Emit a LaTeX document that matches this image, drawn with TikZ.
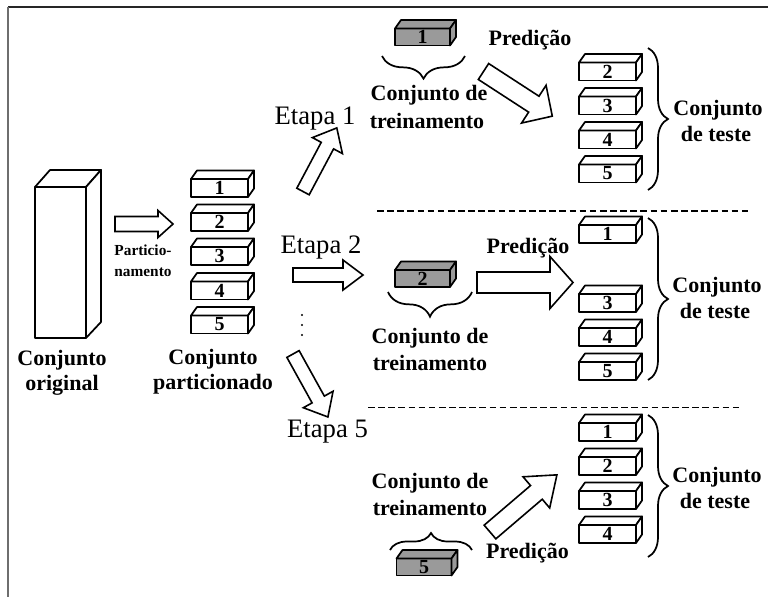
\documentclass[tikz,border=0pt]{standalone}
\usepackage{fontspec}
\setmainfont{Liberation Serif}
\usetikzlibrary{decorations.pathreplacing}
\definecolor{boxgray}{HTML}{9A9A9A}
\definecolor{framegray}{HTML}{6E6E6E}
\tikzset{
  face/.style={draw=black, line width=1.3pt, line join=round},
  boxfront/.style={face, outer sep=0pt, inner sep=0pt, minimum width=42.75pt, minimum height=13.5pt,
     font=\bfseries\fontsize{15}{15}\selectfont},
  trainfront/.style={boxfront, minimum width=41.25pt, minimum height=12.75pt},
  blk/.style={draw=black, line width=1.2pt, fill=white, line join=miter},
  lbl/.style={font=\bfseries\fontsize{16.5}{20}\selectfont, inner sep=0pt, anchor=base},
  smalllbl/.style={font=\bfseries\fontsize{11.5}{14}\selectfont, inner sep=0pt, anchor=base},
  etapa/.style={font=\fontsize{20}{24}\selectfont, inner sep=0pt, anchor=base},
  brc/.style={decorate, decoration={brace, amplitude=#1}, line width=1.3pt},
  sep/.style={line width=0.8pt, dash pattern=on 5pt off 2.6pt},
}
% name, x, y, label, style, fill
\newcommand{\cubebox}[6]{%
  \node[#5, fill=#6] (#1) at (#2,#3) {#4};
  \draw[face, fill=#6] (#1.north west) -- ++(6,-8.5) -- ([shift={(6,-8.5)}]#1.north east) -- (#1.north east) -- cycle;
  \draw[face, fill=#6] (#1.north east) -- ++(6,-8.5) -- ([shift={(6,-8.5)}]#1.south east) -- (#1.south east) -- cycle;
}
% x, y (tail centre), angle, length, shaft width, head width, head length
\newcommand{\blockarrow}[7]{%
  \begin{scope}[shift={(#1,#2)}, rotate=#3]
    \draw[blk] (0,-#5/2) -- (#4-#7,-#5/2) -- (#4-#7,-#6/2) -- (#4,0) -- (#4-#7,#6/2) -- (#4-#7,#5/2) -- (0,#5/2) -- cycle;
  \end{scope}}
\begin{document}
\begin{tikzpicture}[x=0.75pt, y=-0.75pt]
\useasboundingbox (0,0) rectangle (768,597);
% frame
\coordinate (ftl) at (8,7);
\coordinate (ftr) at (768,7);
\coordinate (fbl) at (8,597);
\draw[line width=1.5pt, black!85] (ftl) -- (ftr);
\draw[line width=1.8pt, framegray] (ftl) -- (fbl);

% original set
\node[face, fill=white, outer sep=0pt, minimum width=38.25pt, minimum height=113.25pt] (orig) at (60.5,262.5) {};
\draw[face, fill=white] (orig.north west) -- ++(15,-17) -- ([shift={(15,-17)}]orig.north east) -- (orig.north east) -- cycle;
\draw[face, fill=white] (orig.north east) -- ++(15,-17) -- ([shift={(15,-16)}]orig.south east) -- (orig.south east) -- cycle;
\node[lbl] (origA) at (62,365) {Conjunto};
\node[lbl] (origB) at (62,390) {original};

% partition arrow
\blockarrow{115}{224}{0}{58}{15}{27}{15}
\node[smalllbl] (partA) at (143,255) {Particio-};
\node[smalllbl] (partB) at (143,276) {namento};

% partitioned set
\cubebox{p1}{219.5}{188}{1}{boxfront}{white}
\cubebox{p2}{219.5}{222}{2}{boxfront}{white}
\cubebox{p3}{219.5}{256}{3}{boxfront}{white}
\cubebox{p4}{219.5}{290.5}{4}{boxfront}{white}
\cubebox{p5}{219.5}{324.5}{5}{boxfront}{white}
\node[lbl] (partsetA) at (213,364) {Conjunto};
\node[lbl] (partsetB) at (213,389) {particionado};

% stage arrows
\blockarrow{303}{191.5}{62}{72}{14}{34}{20}
\node[etapa] (et1) at (315,124) {Etapa 1};
\blockarrow{293}{275}{0}{70}{14}{30}{20}
\node[etapa] (et2) at (321,253) {Etapa 2};
\blockarrow{293}{354}{-61}{72}{14}{34}{20}
\node[etapa] (et5) at (327.5,437) {Etapa 5};
\fill (302,315) circle (1.1);
\fill (302,325) circle (1.1);
\fill (302,335) circle (1.1);

% separators
\coordinate (s1a) at (377,211); \coordinate (s1b) at (748,211);
\coordinate (s2a) at (368,407.5); \coordinate (s2b) at (742,407.5);
\draw[sep] (s1a) -- (s1b);
\draw[sep] (s2a) -- (s2b);

% ---- stage 1
\cubebox{t1}{422.5}{37}{1}{trainfront}{boxgray}
\draw[brc=17pt] (465,56) -- (382,56);
\node[lbl] (tr1A) at (429,100) {Conjunto de};
\node[lbl] (tr1B) at (427,128) {treinamento};
\blockarrow{483.5}{71.5}{-33}{82}{19}{45}{22}
\node[lbl] (pr1) at (530,45) {Predição};
\cubebox{a2}{607.5}{71.5}{2}{boxfront}{white}
\cubebox{a3}{607.5}{105.5}{3}{boxfront}{white}
\cubebox{a4}{607.5}{139.5}{4}{boxfront}{white}
\cubebox{a5}{607.5}{173.5}{5}{boxfront}{white}
\draw[brc=15pt] (648,48) -- (648,190);
\node[lbl] (te1A) at (718,115) {Conjunto};
\node[lbl] (te1B) at (716,141.7) {de teste};

% ---- stage 2
\cubebox{t2}{422.5}{278.5}{2}{trainfront}{boxgray}
\draw[brc=18.5pt] (472,292) -- (388,292);
\node[lbl] (tr2A) at (430,343) {Conjunto de};
\node[lbl] (tr2B) at (430,370) {treinamento};
\blockarrow{477}{282.5}{0}{96}{21}{52}{23}
\node[lbl] (pr2) at (528,253) {Predição};
\cubebox{b1}{607.5}{234}{1}{boxfront}{white}
\cubebox{b3}{607.5}{303}{3}{boxfront}{white}
\cubebox{b4}{607.5}{337}{4}{boxfront}{white}
\cubebox{b5}{607.5}{371}{5}{boxfront}{white}
\draw[brc=15pt] (648,218) -- (648,380);
\node[lbl] (te2A) at (717,292) {Conjunto};
\node[lbl] (te2B) at (715,318) {de teste};

% ---- stage 5
\node[lbl] (tr5A) at (430,488) {Conjunto de};
\node[lbl] (tr5B) at (430,515) {treinamento};
\draw[brc=12.75pt] (390,550) -- (472,550);
\cubebox{t5}{424}{567}{5}{trainfront}{boxgray}
\blockarrow{490}{532}{40.5}{88}{18}{41}{27}
\node[lbl] (pr5) at (527.5,558) {Predição};
\cubebox{c1}{607.5}{432}{1}{boxfront}{white}
\cubebox{c2}{607.5}{466}{2}{boxfront}{white}
\cubebox{c3}{607.5}{500}{3}{boxfront}{white}
\cubebox{c4}{607.5}{534}{4}{boxfront}{white}
\draw[brc=15pt] (648,415) -- (648,557);
\node[lbl] (te5A) at (717,482) {Conjunto};
\node[lbl] (te5B) at (715,508) {de teste};
\end{tikzpicture}
\end{document}
